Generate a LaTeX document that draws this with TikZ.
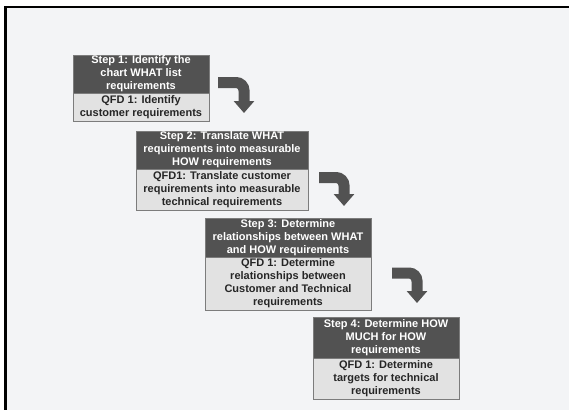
\documentclass[tikz,border=0pt]{standalone}
\usepackage{fontspec}
\setmainfont{Liberation Sans}
\usetikzlibrary{positioning,arrows.meta}
\definecolor{headgray}{HTML}{525252}
\definecolor{bodygray}{HTML}{E2E2E2}
\definecolor{linegray}{HTML}{7C7C7C}
\definecolor{paper}{HTML}{F3F4F6}
\tikzset{
  head/.style={draw=linegray, fill=headgray, text=white, align=center,
    inner sep=0pt, outer sep=0pt, font=\fontsize{11}{13}\selectfont\bfseries},
  body/.style={draw=linegray, fill=bodygray, text=black!85, align=center,
    inner sep=0pt, outer sep=0pt, font=\fontsize{11}{13}\selectfont\bfseries},
  bent/.style={line width=11pt, draw=headgray, rounded corners=8pt,
    -{Triangle[width=20pt,length=12pt]}}
}

\begin{document}
\begin{tikzpicture}[x=1pt,y=-1pt]
    \useasboundingbox (0,0) rectangle (569,410);
    \fill[paper] (5,7) rectangle (569,410);
    \draw[line width=2.5pt] (4,7)--(569,7); % frame top
    \draw[line width=2.5pt] (5.5,6)--(5.5,410); % frame left

    \node[head,minimum width=136pt,minimum height=38pt] (step1) at (141,74)
        {Step 1: Identify the\\ chart WHAT list\\ requirements};
    \node[body,minimum width=136pt,minimum height=28pt,below=0pt of step1] (qfd1)
        {QFD 1: Identify\\ customer requirements};

    \node[head,minimum width=172pt,minimum height=38pt] (step2) at (222,150)
        {Step 2: Translate WHAT\\ requirements into measurable\\ HOW requirements};
    \node[body,minimum width=172pt,minimum height=41pt,below=0pt of step2] (qfd2)
        {QFD1: Translate customer\\ requirements into measurable\\ technical requirements};

    \node[head,minimum width=166pt,minimum height=39pt] (step3) at (288,237.5)
        {Step 3: Determine\\ relationships between WHAT\\ and HOW requirements};
    \node[body,minimum width=166pt,minimum height=53pt,below=0pt of step3] (qfd3)
        {QFD 1: Determine\\ relationships between\\ Customer and Technical\\ requirements};

    \node[head,minimum width=146pt,minimum height=41pt] (step4) at (386,337.5)
        {Step 4: Determine HOW\\ MUCH for HOW\\ requirements};
    \node[body,minimum width=146pt,minimum height=41pt,below=0pt of step4] (qfd4)
        {QFD 1: Determine\\ targets for technical\\ requirements};

    \coordinate (go1) at (218,82.5); % bent arrows
    \coordinate (go2) at (319,177.5);
    \coordinate (go3) at (392,273);
    \draw[bent] (go1) -- ++(26,0) -- ++(0,30.5);
    \draw[bent] (go2) -- ++(25,0) -- ++(0,28.5);
    \draw[bent] (go3) -- ++(25,0) -- ++(0,30);
\end{tikzpicture}
\end{document}
